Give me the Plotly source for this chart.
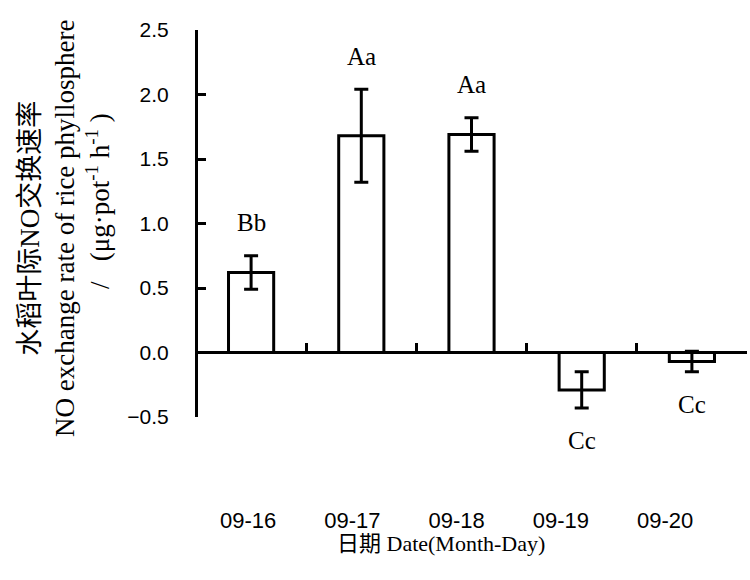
import plotly.graph_objects as go

dates = ["09-16", "09-17", "09-18", "09-19", "09-20"]
rates = [0.62, 1.68, 1.69, -0.29, -0.07]
errors = [0.13, 0.36, 0.13, 0.14, 0.08]
letters = ["Bb", "Aa", "Aa", "Cc", "Cc"]

y_ticks = [-0.5, 0.0, 0.5, 1.0, 1.5, 2.0, 2.5]

SERIF = "Times New Roman, Liberation Serif, Noto Sans CJK SC, serif"
SANS = "Arial, Liberation Sans, sans-serif"

W, H = 750, 580
ML, MR, MT, MB = 196, 3, 30, 75
plot_h = H - MT - MB
plot_w = W - ML - MR

def py(px):
    return (H - MB - px) / plot_h

def pxx(px):
    return (px - ML) / plot_w

fig = go.Figure()

# invisible trace driving the category labels axis (drawn first, underneath)
fig.add_trace(go.Scatter(
    x=dates, y=rates, mode="markers",
    marker=dict(opacity=0, size=1),
    xaxis="x2", yaxis="y",
    hoverinfo="skip", showlegend=False,
))

fig.add_trace(go.Bar(
    x=dates, y=rates,
    width=0.41,
    marker=dict(color="white", line=dict(color="black", width=3)),
    error_y=dict(type="data", array=errors, color="black", thickness=3, width=7),
    xaxis="x", yaxis="y",
    hoverinfo="skip",
))

for d, v, e, t in zip(dates, rates, errors, letters):
    if v >= 0:
        yv, sh = v + e, 33
    else:
        yv, sh = v - e, -33
    fig.add_annotation(
        x=d, y=yv, xref="x", yref="y", yshift=sh,
        text=t, showarrow=False, yanchor="middle",
        font=dict(family=SERIF, size=25, color="black"),
    )

# y-axis title
fig.add_annotation(
    x=pxx(65), y=py(228), xref="paper", yref="paper",
    text=("水稻叶际NO交换速率<br>NO exchange rate of rice phyllosphere<br>"
          "&nbsp;&nbsp;&nbsp;&nbsp;&nbsp;&nbsp;&nbsp;&nbsp;/&nbsp;&nbsp;&nbsp;(μg·pot<sup>-1</sup>&nbsp;h<sup>-1</sup>&nbsp;)"),
    textangle=-90, showarrow=False, xanchor="center", yanchor="middle",
    font=dict(family=SERIF, size=27, color="black"),
)

# x-axis title
fig.add_annotation(
    x=pxx(441), y=py(543), xref="paper", yref="paper",
    text="日期 Date(Month-Day)", showarrow=False,
    xanchor="center", yanchor="middle",
    font=dict(family=SERIF, size=22, color="black"),
)

fig.update_layout(
    width=W, height=H,
    margin=dict(l=ML, r=MR, t=MT, b=MB),
    paper_bgcolor="white", plot_bgcolor="rgba(0,0,0,0)",
    showlegend=False,
    xaxis=dict(
        type="category", domain=[0, 1], anchor="free", position=py(352),
        range=[-0.5, 4.5],
        showline=True, linecolor="black", linewidth=3,
        ticks="inside", tickson="boundaries", ticklen=8, tickwidth=3, tickcolor="black",
        showticklabels=False, showgrid=False, zeroline=False,
    ),
    xaxis2=dict(
        type="category", domain=[0, pxx(717.3)], anchor="free", position=0,
        range=[-0.5, 4.5],
        showline=False, ticks="", showgrid=False, zeroline=False,
        tickfont=dict(family=SANS, size=22, color="black"),
    ),
    yaxis=dict(
        domain=[py(417), 1], anchor="free", position=0,
        range=[-0.5, 2.5], tickvals=y_ticks, tickformat=".1f",
        showline=True, linecolor="black", linewidth=3,
        ticks="inside", ticklen=8, tickwidth=3, tickcolor="black",
        ticklabelstandoff=22,
        tickfont=dict(family=SANS, size=21, color="black"),
        showgrid=False, zeroline=False,
    ),
)

fig.write_html("out.html")
